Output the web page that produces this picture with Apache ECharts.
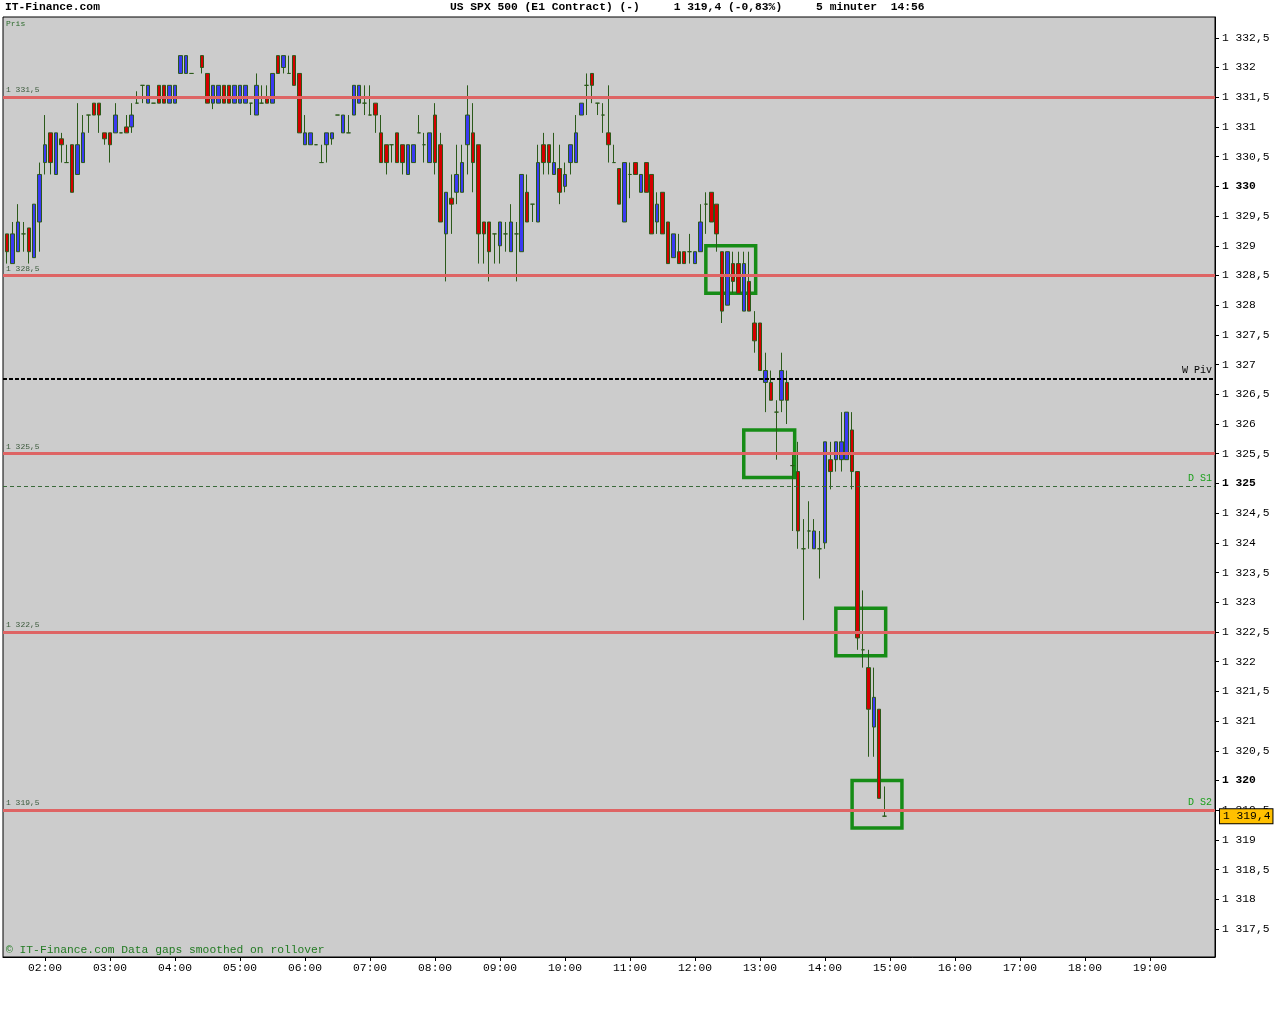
<!DOCTYPE html>
<html>
<head>
<meta charset="utf-8">
<title>US SPX 500</title>
<script src="https://cdn.jsdelivr.net/npm/echarts@6.0.0/dist/echarts.min.js"></script>
<style>
    body { margin: 0; background: #ffffff; }
    #chart-spx { width: 1280px; height: 1024px; }
</style>
</head>
<body>
<div id="chart-spx"></div>
<script>
// 5-minuters staplar, tid + [open, close, low, high]
var times = [
    '01:25', '01:30', '01:35', '01:40', '01:45', '01:50', '01:55',
    '02:00', '02:05', '02:10', '02:15', '02:20', '02:25', '02:30', '02:35', '02:40', '02:45', '02:50', '02:55',
    '03:00', '03:05', '03:10', '03:15', '03:20', '03:25', '03:30', '03:35', '03:40', '03:45', '03:50', '03:55',
    '04:00', '04:05', '04:10', '04:15', '04:25', '04:30', '04:35', '04:40', '04:45', '04:50', '04:55',
    '05:00', '05:05', '05:10', '05:15', '05:20', '05:25', '05:30', '05:35', '05:40', '05:45', '05:50', '05:55',
    '06:00', '06:05', '06:10', '06:15', '06:20', '06:25', '06:30', '06:35', '06:40', '06:45', '06:50', '06:55',
    '07:00', '07:05', '07:10', '07:15', '07:20', '07:25', '07:30', '07:35', '07:40', '07:45', '07:50', '07:55',
    '08:00', '08:05', '08:10', '08:15', '08:20', '08:25', '08:30', '08:35', '08:40', '08:45', '08:50', '08:55',
    '09:00', '09:05', '09:10', '09:15', '09:20', '09:25', '09:30', '09:35', '09:40', '09:45', '09:50', '09:55',
    '10:00', '10:05', '10:10', '10:15', '10:20', '10:25', '10:30', '10:35', '10:40', '10:45', '10:50', '10:55',
    '11:00', '11:05', '11:10', '11:15', '11:20', '11:25', '11:30', '11:35', '11:40', '11:45', '11:50', '11:55',
    '12:00', '12:05', '12:10', '12:15', '12:20', '12:25', '12:30', '12:35', '12:40', '12:45', '12:50', '12:55',
    '13:00', '13:05', '13:10', '13:15', '13:20', '13:25', '13:30', '13:35', '13:40', '13:45', '13:50', '13:55',
    '14:00', '14:05', '14:10', '14:15', '14:20', '14:25', '14:30', '14:35', '14:40', '14:45', '14:50', '14:55'
];

var ohlc = [
    [1329.2, 1328.9, 1328.7, 1329.2], [1328.7, 1329.2, 1328.7, 1329.4], [1328.9, 1329.4, 1328.9, 1329.7],
    [1329.2, 1329.2, 1328.9, 1329.4], [1329.3, 1328.9, 1328.7, 1329.3], [1328.8, 1329.7, 1328.8, 1329.7],
    [1329.4, 1330.2, 1328.9, 1330.4],
    // 02
    [1330.4, 1330.7, 1330.2, 1331.2], [1330.9, 1330.4, 1330.2, 1330.9], [1330.2, 1330.9, 1330.2, 1330.9],
    [1330.8, 1330.7, 1330.4, 1330.9], [1330.4, 1330.4, 1330.4, 1330.7], [1330.7, 1329.9, 1329.9, 1330.7],
    [1330.2, 1330.7, 1330.2, 1331.4], [1330.4, 1330.9, 1330.4, 1331.2], [1331.2, 1331.2, 1330.9, 1331.2],
    [1331.4, 1331.2, 1331.2, 1331.4], [1331.4, 1331.2, 1330.9, 1331.4], [1330.9, 1330.8, 1330.7, 1330.9],
    // 03
    [1330.9, 1330.7, 1330.4, 1330.9], [1330.9, 1331.2, 1330.9, 1331.4], [1330.9, 1330.9, 1330.9, 1330.9],
    [1331.0, 1330.9, 1330.9, 1331.2], [1331.0, 1331.2, 1330.9, 1331.4], [1331.4, 1331.4, 1331.4, 1331.6],
    [1331.7, 1331.7, 1331.4, 1331.7], [1331.4, 1331.7, 1331.4, 1331.7], [1331.4, 1331.4, 1331.4, 1331.4],
    [1331.7, 1331.4, 1331.4, 1331.7], [1331.7, 1331.4, 1331.4, 1331.7], [1331.4, 1331.7, 1331.4, 1331.7],
    // 04
    [1331.4, 1331.7, 1331.4, 1331.7], [1331.9, 1332.2, 1331.9, 1332.2], [1331.9, 1332.2, 1331.9, 1332.2],
    [1331.9, 1331.9, 1331.9, 1331.9], [1332.2, 1332.0, 1331.9, 1332.2], [1331.9, 1331.4, 1331.4, 1331.9],
    [1331.4, 1331.7, 1331.3, 1331.7], [1331.4, 1331.7, 1331.4, 1331.7], [1331.7, 1331.4, 1331.4, 1331.7],
    [1331.7, 1331.4, 1331.4, 1331.7], [1331.4, 1331.7, 1331.4, 1331.7],
    // 05
    [1331.4, 1331.7, 1331.4, 1331.7], [1331.4, 1331.7, 1331.4, 1331.7], [1331.4, 1331.4, 1331.2, 1331.4],
    [1331.2, 1331.7, 1331.2, 1331.9], [1331.4, 1331.4, 1331.4, 1331.7], [1331.5, 1331.4, 1331.4, 1331.7],
    [1331.4, 1331.9, 1331.4, 1331.9], [1332.2, 1331.9, 1331.9, 1332.2], [1332.0, 1332.2, 1331.9, 1332.2],
    [1331.9, 1331.9, 1331.9, 1332.2], [1332.2, 1331.7, 1331.7, 1332.2], [1331.9, 1330.9, 1330.9, 1331.9],
    // 06
    [1330.7, 1330.9, 1330.7, 1331.2], [1330.7, 1330.9, 1330.7, 1330.9], [1330.7, 1330.7, 1330.7, 1330.7],
    [1330.4, 1330.4, 1330.4, 1330.7], [1330.7, 1330.9, 1330.4, 1330.9], [1330.8, 1330.9, 1330.7, 1330.9],
    [1331.2, 1331.2, 1331.2, 1331.2], [1330.9, 1331.2, 1330.9, 1331.2], [1330.9, 1330.9, 1330.9, 1331.2],
    [1331.2, 1331.7, 1331.2, 1331.7], [1331.4, 1331.7, 1331.4, 1331.7], [1331.4, 1331.4, 1331.2, 1331.7],
    // 07
    [1331.2, 1331.2, 1331.2, 1331.7], [1331.4, 1331.2, 1330.9, 1331.4], [1330.9, 1330.4, 1330.4, 1331.2],
    [1330.7, 1330.4, 1330.2, 1330.7], [1330.7, 1330.7, 1330.4, 1330.7], [1330.9, 1330.4, 1330.4, 1330.9],
    [1330.7, 1330.4, 1330.2, 1330.7], [1330.2, 1330.7, 1330.2, 1330.7], [1330.4, 1330.7, 1330.4, 1330.7],
    [1330.9, 1330.9, 1330.9, 1331.2], [1330.7, 1330.7, 1330.4, 1330.9], [1330.4, 1330.9, 1330.4, 1330.9],
    // 08
    [1331.2, 1330.4, 1330.2, 1331.4], [1330.7, 1329.4, 1329.4, 1330.9], [1329.2, 1329.9, 1328.4, 1329.9],
    [1329.8, 1329.7, 1329.2, 1330.2], [1329.9, 1330.2, 1329.7, 1330.7], [1329.9, 1330.4, 1329.9, 1330.7],
    [1330.7, 1331.2, 1330.2, 1331.7], [1330.9, 1330.4, 1329.9, 1331.4], [1330.7, 1329.2, 1328.7, 1330.7],
    [1329.4, 1329.2, 1328.7, 1329.4], [1329.4, 1328.9, 1328.4, 1329.4], [1329.2, 1329.2, 1328.7, 1329.2],
    // 09
    [1329.0, 1329.4, 1328.7, 1329.4], [1329.2, 1329.2, 1328.9, 1329.4], [1328.9, 1329.4, 1328.9, 1329.7],
    [1329.2, 1329.2, 1328.4, 1329.4], [1328.9, 1330.2, 1328.9, 1330.2], [1329.9, 1329.4, 1329.4, 1330.2],
    [1329.7, 1329.7, 1329.4, 1329.7], [1329.4, 1330.4, 1329.4, 1330.7], [1330.7, 1330.4, 1330.2, 1330.9],
    [1330.7, 1330.4, 1330.2, 1330.7], [1330.2, 1330.4, 1330.2, 1330.9], [1330.3, 1329.9, 1329.7, 1330.7],
    // 10
    [1330.0, 1330.2, 1329.9, 1330.4], [1330.4, 1330.7, 1330.2, 1330.7], [1330.4, 1330.9, 1330.4, 1331.2],
    [1331.2, 1331.4, 1331.2, 1331.4], [1331.7, 1331.7, 1331.2, 1331.9], [1331.9, 1331.7, 1331.4, 1331.9],
    [1331.4, 1331.4, 1331.2, 1331.4], [1331.2, 1331.2, 1330.9, 1331.4], [1330.9, 1330.7, 1330.4, 1331.7],
    [1330.4, 1330.4, 1330.4, 1330.7], [1330.3, 1329.7, 1329.7, 1330.3], [1329.4, 1330.4, 1329.4, 1330.4],
    // 11
    [1330.2, 1330.2, 1329.8, 1330.4], [1330.4, 1330.2, 1330.2, 1330.4], [1329.9, 1330.2, 1329.9, 1330.2],
    [1330.4, 1329.9, 1329.9, 1330.4], [1330.2, 1329.2, 1329.2, 1330.2], [1329.4, 1329.7, 1329.2, 1329.9],
    [1329.9, 1329.2, 1329.2, 1329.9], [1329.4, 1328.7, 1328.7, 1329.4], [1328.8, 1329.2, 1328.8, 1329.2],
    [1328.9, 1328.7, 1328.7, 1329.2], [1328.9, 1328.7, 1328.7, 1328.9], [1328.9, 1328.9, 1328.7, 1329.2],
    // 12
    [1328.7, 1328.9, 1328.7, 1328.9], [1328.9, 1329.4, 1328.9, 1329.7], [1329.7, 1329.7, 1329.2, 1329.9],
    [1329.9, 1329.4, 1329.4, 1329.9], [1329.7, 1329.2, 1328.9, 1329.7], [1328.9, 1327.9, 1327.7, 1328.9],
    [1328.0, 1328.9, 1328.0, 1328.9], [1328.7, 1328.4, 1328.2, 1328.9], [1328.7, 1328.2, 1328.2, 1328.9],
    [1327.9, 1328.7, 1327.9, 1328.9], [1328.4, 1327.9, 1327.9, 1328.9], [1327.7, 1327.4, 1327.2, 1327.9],
    // 13
    [1327.7, 1326.9, 1326.9, 1327.7], [1326.7, 1326.9, 1326.2, 1327.2], [1326.7, 1326.4, 1326.4, 1326.9],
    [1326.2, 1326.2, 1325.4, 1326.4], [1326.4, 1326.9, 1326.2, 1327.2], [1326.7, 1326.4, 1326.0, 1326.9],
    [1325.3, 1325.3, 1324.2, 1325.5], [1325.2, 1324.2, 1323.9, 1325.7], [1323.9, 1323.9, 1322.7, 1324.4],
    [1324.2, 1324.2, 1323.9, 1324.7], [1323.9, 1324.2, 1323.9, 1324.4], [1323.9, 1323.9, 1323.4, 1324.2],
    // 14
    [1324.0, 1325.7, 1323.9, 1325.7], [1325.4, 1325.2, 1324.9, 1325.7], [1325.4, 1325.7, 1325.2, 1325.7],
    [1325.4, 1325.7, 1325.2, 1326.2], [1325.4, 1326.2, 1325.4, 1326.2], [1325.9, 1325.2, 1324.9, 1326.2],
    [1325.2, 1322.4, 1322.2, 1325.2], [1322.2, 1322.2, 1321.9, 1323.2], [1321.9, 1321.2, 1320.4, 1322.2],
    [1320.9, 1321.4, 1320.4, 1321.9], [1321.2, 1319.7, 1319.7, 1321.2], [1319.4, 1319.4, 1319.4, 1319.9]
];

var redLevels = [1331.5, 1328.5, 1325.5, 1322.5, 1319.5];
var weekPivot = 1326.76;
var dayS1 = 1324.95;
var dayS2 = 1319.5;
var lastPrice = 1319.4;

// gröna rutor: [tid, pris] hörn
var boxes = [
    [['12:10', 1329.0], ['12:56', 1328.2]],
    [['12:45', 1325.9], ['13:32', 1325.1]],
    [['14:10', 1322.9], ['14:56', 1322.1]],
    [['14:25', 1320.0], ['15:11', 1319.2]]
];

var hourLabels = ['02:00', '03:00', '04:00', '05:00', '06:00', '07:00', '08:00', '09:00', '10:00',
    '11:00', '12:00', '13:00', '14:00', '15:00', '16:00', '17:00', '18:00', '19:00'];
var priceTicks = [1317.5, 1318, 1318.5, 1319, 1319.5, 1320, 1320.5, 1321, 1321.5, 1322, 1322.5,
    1323, 1323.5, 1324, 1324.5, 1325, 1325.5, 1326, 1326.5, 1327, 1327.5, 1328, 1328.5,
    1329, 1329.5, 1330, 1330.5, 1331, 1331.5, 1332, 1332.5];

var MONO = '"Liberation Mono", "DejaVu Sans Mono", monospace';

function toMinutes(t) {
    var p = t.split(':');
    return Number(p[0]) * 60 + Number(p[1]);
}

function toClock(m) {
    var h = Math.floor(m / 60), mm = m % 60;
    return (h < 10 ? '0' : '') + h + ':' + (mm < 10 ? '0' : '') + mm;
}

function formatPrice(v) {
    var s = (Math.round(v * 10) % 10 === 0) ? Math.round(v).toString() : v.toFixed(1);
    var parts = s.split('.');
    parts[0] = parts[0].replace(/\B(?=(\d{3})+(?!\d))/g, ' ');
    return parts.join(',');
}

function getCandleData() {
    var data = [];
    for (var i = 0; i < times.length; i++) {
        data.push([toMinutes(times[i])].concat(ohlc[i]));
    }
    return data;
}

function getLevelLines() {
    var lines = [];
    lines.push({
        yAxis: dayS2,
        lineStyle: { color: '#3a6a3a', width: 1, type: [4, 3] },
        label: { formatter: 'D S2', position: 'insideEndTop', color: '#1aa01a', fontFamily: MONO, fontSize: 10, distance: 3 }
    });
    for (var i = 0; i < redLevels.length; i++) {
        lines.push({
            yAxis: redLevels[i],
            lineStyle: { color: '#de6464', width: 3, type: 'solid' },
            label: { formatter: formatPrice(redLevels[i]), position: 'insideStartTop', color: '#3c5a3c', fontFamily: MONO, fontSize: 8, distance: 3 }
        });
    }
    lines.push({
        yAxis: weekPivot,
        lineStyle: { color: '#000000', width: 2, type: [4, 2] },
        label: { formatter: 'W Piv', position: 'insideEndTop', color: '#000000', fontFamily: MONO, fontSize: 10, distance: 3 }
    });
    lines.push({
        yAxis: dayS1,
        lineStyle: { color: '#3a6a3a', width: 1, type: [4, 3] },
        label: { formatter: 'D S1', position: 'insideEndTop', color: '#1aa01a', fontFamily: MONO, fontSize: 10, distance: 3 }
    });
    lines.push({
        yAxis: lastPrice,
        lineStyle: { color: 'rgba(0,0,0,0)', width: 0 },
        label: {
            formatter: formatPrice(lastPrice), position: 'end', distance: 5,
            color: '#000000', backgroundColor: '#ffc000', borderColor: '#000000', borderWidth: 1,
            padding: [2, 2, 1, 3], fontFamily: MONO, fontSize: 11.3
        }
    });
    return lines;
}

function getBoxAreas() {
    var areas = [];
    for (var i = 0; i < boxes.length; i++) {
        areas.push([
            { coord: [toMinutes(boxes[i][0][0]), boxes[i][0][1]] },
            { coord: [toMinutes(boxes[i][1][0]), boxes[i][1][1]] }
        ]);
    }
    return areas;
}

var chart = echarts.init(document.getElementById('chart-spx'));
var option = {
    animation: false,
    backgroundColor: '#ffffff',
    title: [
        { text: 'IT-Finance.com', left: 5, top: 2, padding: 0,
            textStyle: { fontFamily: MONO, fontSize: 11.3, fontWeight: 'bold', color: '#000' } },
        { text: 'US SPX 500 (E1 Contract) (-)     1 319,4 (-0,83%)     5 minuter  14:56', left: 450, top: 2, padding: 0,
            textStyle: { fontFamily: MONO, fontSize: 11.3, fontWeight: 'bold', color: '#000' } },
        { text: 'Pris', left: 6, top: 20, padding: 0,
            textStyle: { fontFamily: MONO, fontSize: 8, fontWeight: 'normal', color: '#2a6a2a' } },
        { text: '\u00a9 IT-Finance.com Data gaps smoothed on rollover', left: 6, top: 945, padding: 0,
            textStyle: { fontFamily: MONO, fontSize: 11.3, fontWeight: 'normal', color: '#227a22' } }
    ],
    grid: {
        left: 3, top: 17, width: 1212, height: 940,
        show: true, backgroundColor: '#cccccc', borderColor: '#000000', borderWidth: 1,
        outerBoundsMode: 'none'
    },
    xAxis: {
        type: 'value',
        min: 81.2,
        max: 1200,
        axisLine: { show: true, onZero: false, lineStyle: { color: '#000', width: 1 } },
        axisTick: { show: true, length: 4, customValues: hourLabels.map(toMinutes), lineStyle: { color: '#000' } },
        axisLabel: {
            customValues: hourLabels.map(toMinutes),
            formatter: function (v) { return toClock(v); },
            fontFamily: MONO, fontSize: 11.3, color: '#000', margin: 6
        },
        splitLine: { show: false }
    },
    yAxis: {
        type: 'value',
        position: 'right',
        min: 1317.03,
        max: 1332.85,
        axisLine: { show: true, lineStyle: { color: '#000', width: 1 } },
        axisTick: { show: true, length: 4, customValues: priceTicks, lineStyle: { color: '#000' } },
        axisLabel: {
            customValues: priceTicks,
            margin: 7,
            formatter: function (v) {
                var s = formatPrice(v);
                return (Math.abs(v % 5) < 0.001) ? '{b|' + s + '}' : s;
            },
            fontFamily: MONO, fontSize: 11.3, color: '#000',
            rich: { b: { fontFamily: MONO, fontSize: 11.3, fontWeight: 'bold', color: '#000' } }
        },
        splitLine: { show: false }
    },
    series: [{
        name: 'US SPX 500',
        type: 'candlestick',
        data: getCandleData(),
        encode: { x: 0, y: [1, 2, 3, 4] },
        barWidth: 4,
        itemStyle: {
            color: '#3a3af2',
            color0: '#d40000',
            borderColor: '#2b5a1a',
            borderColor0: '#2b5a1a',
            borderColorDoji: '#2b5a1a',
            borderWidth: 1
        },
        markLine: {
            silent: true,
            symbol: ['none', 'none'],
            data: getLevelLines()
        },
        markArea: {
            silent: true,
            itemStyle: { color: 'rgba(0,0,0,0)', borderColor: '#168c16', borderWidth: 3.5 },
            data: getBoxAreas()
        }
    }]
};
chart.setOption(option);
</script>
</body>
</html>
